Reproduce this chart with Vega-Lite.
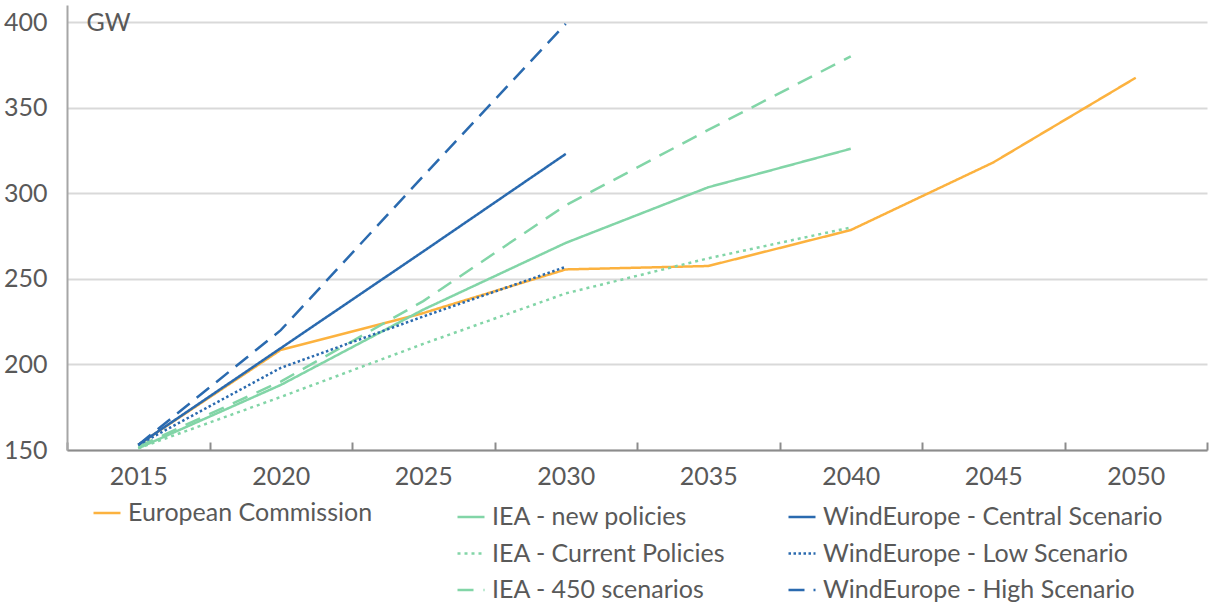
{
  "$schema": "https://vega.github.io/schema/vega-lite/v6.json",
  "width": 1140,
  "height": 445,
  "autosize": {"type": "none"},
  "padding": {"left": 67, "top": 5, "right": 5, "bottom": 154},
  "background": "white",
  "config": {
    "view": {"stroke": null},
    "font": "Lato",
    "legend": {
      "orient": "none",
      "title": null,
      "symbolType": "stroke",
      "symbolSize": 729,
      "symbolStrokeWidth": 2.5,
      "labelFontSize": 25,
      "labelColor": "#595959",
      "labelFont": "Lato",
      "labelOffset": 6,
      "rowPadding": 8.5,
      "padding": 0,
      "direction": "vertical",
      "labelLimit": 500
    }
  },
  "data": {
    "values": [
      {"year": "2015", "series": "European Commission", "group": "EC", "value": 153},
      {"year": "2020", "series": "European Commission", "group": "EC", "value": 208.5},
      {"year": "2025", "series": "European Commission", "group": "EC", "value": 230},
      {"year": "2030", "series": "European Commission", "group": "EC", "value": 255.5},
      {"year": "2035", "series": "European Commission", "group": "EC", "value": 257.5},
      {"year": "2040", "series": "European Commission", "group": "EC", "value": 278.5},
      {"year": "2045", "series": "European Commission", "group": "EC", "value": 318},
      {"year": "2050", "series": "European Commission", "group": "EC", "value": 367.5},
      {"year": "2015", "series": "IEA - new policies", "group": "IEA", "value": 151},
      {"year": "2020", "series": "IEA - new policies", "group": "IEA", "value": 188},
      {"year": "2025", "series": "IEA - new policies", "group": "IEA", "value": 232},
      {"year": "2030", "series": "IEA - new policies", "group": "IEA", "value": 271},
      {"year": "2035", "series": "IEA - new policies", "group": "IEA", "value": 303.5},
      {"year": "2040", "series": "IEA - new policies", "group": "IEA", "value": 326},
      {"year": "2015", "series": "IEA - Current Policies", "group": "IEA", "value": 151},
      {"year": "2020", "series": "IEA - Current Policies", "group": "IEA", "value": 181},
      {"year": "2025", "series": "IEA - Current Policies", "group": "IEA", "value": 212},
      {"year": "2030", "series": "IEA - Current Policies", "group": "IEA", "value": 241.5},
      {"year": "2035", "series": "IEA - Current Policies", "group": "IEA", "value": 262},
      {"year": "2040", "series": "IEA - Current Policies", "group": "IEA", "value": 280},
      {"year": "2015", "series": "IEA - 450 scenarios", "group": "IEA", "value": 152},
      {"year": "2020", "series": "IEA - 450 scenarios", "group": "IEA", "value": 190},
      {"year": "2025", "series": "IEA - 450 scenarios", "group": "IEA", "value": 237},
      {"year": "2030", "series": "IEA - 450 scenarios", "group": "IEA", "value": 293},
      {"year": "2035", "series": "IEA - 450 scenarios", "group": "IEA", "value": 337},
      {"year": "2040", "series": "IEA - 450 scenarios", "group": "IEA", "value": 380},
      {"year": "2015", "series": "WindEurope - Central Scenario", "group": "WE", "value": 153},
      {"year": "2020", "series": "WindEurope - Central Scenario", "group": "WE", "value": 209.5},
      {"year": "2025", "series": "WindEurope - Central Scenario", "group": "WE", "value": 266},
      {"year": "2030", "series": "WindEurope - Central Scenario", "group": "WE", "value": 323},
      {"year": "2015", "series": "WindEurope - Low Scenario", "group": "WE", "value": 153},
      {"year": "2020", "series": "WindEurope - Low Scenario", "group": "WE", "value": 198},
      {"year": "2025", "series": "WindEurope - Low Scenario", "group": "WE", "value": 228},
      {"year": "2030", "series": "WindEurope - Low Scenario", "group": "WE", "value": 257},
      {"year": "2015", "series": "WindEurope - High Scenario", "group": "WE", "value": 153},
      {"year": "2020", "series": "WindEurope - High Scenario", "group": "WE", "value": 220},
      {"year": "2025", "series": "WindEurope - High Scenario", "group": "WE", "value": 310},
      {"year": "2030", "series": "WindEurope - High Scenario", "group": "WE", "value": 399}
    ]
  },
  "encoding": {
    "x": {
      "field": "year",
      "type": "ordinal",
      "scale": {"type": "band", "paddingInner": 0, "paddingOuter": 0, "domain": ["2015", "2020", "2025", "2030", "2035", "2040", "2045", "2050"]},
      "axis": {
        "title": null,
        "labelAngle": 0,
        "tickBand": "extent",
        "ticks": true,
        "tickSize": -8,
        "tickColor": "#8c8c8c",
        "tickWidth": 2,
        "domainColor": "#8c8c8c",
        "domainWidth": 2,
        "labelFontSize": 25,
        "labelColor": "#595959",
        "labelPadding": 22,
        "grid": false
      }
    },
    "y": {
      "field": "value",
      "type": "quantitative",
      "scale": {"domain": [150, 410], "nice": false, "zero": false},
      "axis": {
        "values": [150, 200, 250, 300, 350, 400],
        "ticks": false,
        "grid": true,
        "gridColor": "#d9d9d9",
        "gridWidth": 2,
        "domainColor": "#a6a6a6",
        "domainWidth": 2,
        "labelFontSize": 25,
        "labelColor": "#595959",
        "labelPadding": 20,
        "title": "GW",
        "titleAngle": 0,
        "titleX": 19,
        "titleY": 17,
        "titleAlign": "left",
        "titleBaseline": "middle",
        "titleFontSize": 25,
        "titleFontWeight": "normal",
        "titleColor": "#595959"
      }
    }
  },
  "layer": [
    {
      "transform": [{"filter": "datum.group == 'EC'"}],
      "mark": {"type": "line", "strokeWidth": 2.5},
      "encoding": {
        "color": {
          "field": "series", "type": "nominal",
          "scale": {"domain": ["European Commission"], "range": ["#FCB23F"]},
          "legend": {"legendX": 25, "legendY": 493}
        },
        "strokeDash": {
          "field": "series", "type": "nominal",
          "scale": {"domain": ["European Commission"], "range": [[1, 0]]},
          "legend": {"legendX": 25, "legendY": 493}
        }
      }
    },
    {
      "transform": [{"filter": "datum.group == 'IEA'"}],
      "mark": {"type": "line", "strokeWidth": 2.5},
      "encoding": {
        "color": {
          "field": "series", "type": "nominal",
          "scale": {"domain": ["IEA - new policies", "IEA - Current Policies", "IEA - 450 scenarios"], "range": ["#82D5A7", "#82D5A7", "#82D5A7"]},
          "legend": {"legendX": 389, "legendY": 497}
        },
        "strokeDash": {
          "field": "series", "type": "nominal",
          "scale": {"domain": ["IEA - new policies", "IEA - Current Policies", "IEA - 450 scenarios"], "range": [[1, 0], [3, 4], [16, 10]]},
          "legend": {"legendX": 389, "legendY": 497}
        }
      }
    },
    {
      "transform": [{"filter": "datum.group == 'WE'"}],
      "mark": {"type": "line", "strokeWidth": 2.5},
      "encoding": {
        "color": {
          "field": "series", "type": "nominal",
          "scale": {"domain": ["WindEurope - Central Scenario", "WindEurope - Low Scenario", "WindEurope - High Scenario"], "range": ["#2A6AAF", "#2A6AAF", "#2A6AAF"]},
          "legend": {"legendX": 720, "legendY": 497}
        },
        "strokeDash": {
          "field": "series", "type": "nominal",
          "scale": {"domain": ["WindEurope - Central Scenario", "WindEurope - Low Scenario", "WindEurope - High Scenario"], "range": [[1, 0], [2.5, 2.5], [16, 9]]},
          "legend": {"legendX": 720, "legendY": 497}
        }
      }
    }
  ],
  "resolve": {"scale": {"color": "independent", "strokeDash": "independent"}, "legend": {"color": "independent", "strokeDash": "independent"}}
}
